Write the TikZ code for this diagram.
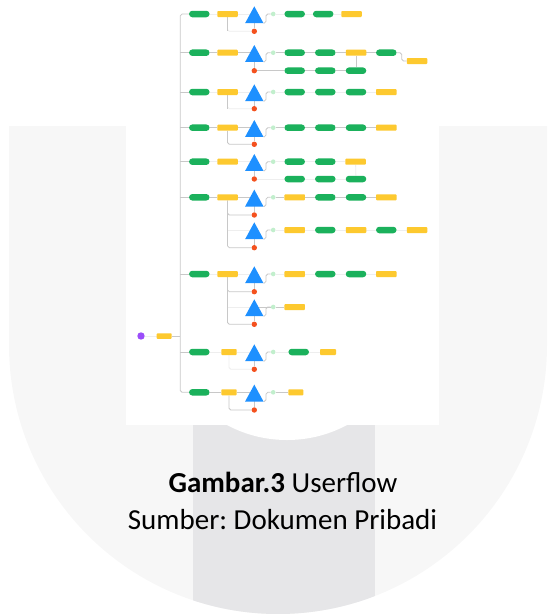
\documentclass[tikz,border=0pt]{standalone}
\usepackage{fontspec}
\setmainfont{Carlito}
\frenchspacing
\usetikzlibrary{calc}

\definecolor{wmlight}{HTML}{F7F7F7}
\definecolor{wmband}{HTML}{E6E6E8}
\definecolor{flowgreen}{HTML}{1BB15C}
\definecolor{flowyellow}{HTML}{FDC92F}
\definecolor{flowblue}{HTML}{1E90FF}
\definecolor{flowred}{HTML}{F4511E}
\definecolor{yesgreen}{HTML}{C2EFCD}
\definecolor{startpurple}{HTML}{9B4DFA}
\definecolor{linkgray}{HTML}{C8C8C8}
\definecolor{faintgray}{HTML}{EEEEEE}

\pgfdeclarelayer{wm}
\pgfdeclarelayer{links}
\pgfsetlayers{wm,links,main}

\tikzset{
  pill/.style={rectangle, rounded corners=3.2pt, fill=flowgreen, minimum width=20.5pt, minimum height=6.5pt, inner sep=0pt},
  note/.style={rectangle, rounded corners=0.8pt, fill=flowyellow, minimum width=20.5pt, minimum height=6pt, inner sep=0pt},
  decision/.style={rectangle, minimum width=18pt, minimum height=16.5pt, inner sep=0pt},
  okdot/.style={circle, fill=yesgreen, minimum size=4.6pt, inner sep=0pt},
  nodot/.style={circle, fill=flowred, minimum size=5.4pt, inner sep=0pt},
  startdot/.style={circle, fill=startpurple, minimum size=7.4pt, inner sep=0pt},
  link/.style={draw=linkgray, line width=0.8pt, rounded corners=1.8pt},
  faint/.style={draw=faintgray, line width=0.8pt, rounded corners=1.8pt},
  caption/.style={anchor=base, inner sep=0pt, font=\fontsize{29}{35}\selectfont},
}

% decision triangle: named box plus the filled triangle inside it
\newcommand{\decisionnode}[3]{%
  \node[decision] (#1) at (#2,#3) {};
  \fill[flowblue] (#1.south west) -- (#1.south east) -- (#1.north) -- cycle;}

\begin{document}
\begin{tikzpicture}[x=1pt,y=-1pt]
\useasboundingbox (0,0) rectangle (547,614);

% ---------- background emblem ----------
\begin{pgfonlayer}{wm}
  \fill[wmlight] (9,126) -- (547,126) -- (547,345) arc[start angle=0, end angle=180, radius=269] -- cycle;
  \begin{scope}
    \clip (9,126) -- (547,126) -- (547,345) arc[start angle=0, end angle=180, radius=269] -- cycle;
    \fill[wmband] (193,300) rectangle (375,614);
  \end{scope}
  \fill[white] (287,312.5) circle[radius=127.5];
  \fill[white] (126,0) rectangle (439,425);
\end{pgfonlayer}

% ---------- start ----------
\node[startdot] (s0) at (141,336) {};
\node[note, minimum width=15pt, minimum height=5.5pt] (s1) at (164.2,336) {};
\coordinate (trk) at (180.3,0);

% ---------- row 1 ----------
\node[pill] (p1) at (199.3,14) {};
\node[note] (n1) at (227.5,14) {};
\decisionnode{d1}{254.3}{14.75}
\node[okdot] (k1) at (273.2,14) {};
\node[nodot] (x1) at (254.3,31.3) {};
\node[pill] (r1a) at (294.7,14) {};
\node[pill] (r1b) at (323.2,14) {};
\node[note] (r1c) at (351.5,14) {};

% ---------- row 2 ----------
\node[pill] (p2) at (199.3,52.7) {};
\node[note] (n2) at (227.5,52.7) {};
\decisionnode{d2}{254.3}{53.45}
\node[okdot] (k2) at (273.2,52.7) {};
\node[nodot] (x2) at (254.3,70.7) {};
\node[pill] (r2a) at (294.7,52.7) {};
\node[pill] (r2b) at (325.3,52.7) {};
\node[note] (r2c) at (356,52.7) {};
\node[pill] (r2d) at (386.3,52.7) {};
\node[note] (r2e) at (417,61) {};
\node[pill] (r2f) at (294.7,70.7) {};
\node[pill] (r2g) at (325.3,70.7) {};
\node[pill] (r2h) at (356,70.7) {};

% ---------- row 3 ----------
\node[pill] (p3) at (199.3,92) {};
\node[note] (n3) at (227.5,92) {};
\decisionnode{d3}{254.3}{92.75}
\node[okdot] (k3) at (273.2,92) {};
\node[nodot] (x3) at (254.3,108.7) {};
\node[pill] (r3a) at (294.7,92) {};
\node[pill] (r3b) at (325.3,92) {};
\node[pill] (r3c) at (356,92) {};
\node[note] (r3d) at (386.3,92) {};

% ---------- row 4 ----------
\node[pill] (p4) at (199.3,127.7) {};
\node[note] (n4) at (227.5,127.7) {};
\decisionnode{d4}{254.3}{128.45}
\node[okdot] (k4) at (273.2,127.7) {};
\node[nodot] (x4) at (254.3,144.3) {};
\node[pill] (r4a) at (294.7,127.7) {};
\node[pill] (r4b) at (325.3,127.7) {};
\node[pill] (r4c) at (356,127.7) {};
\node[note] (r4d) at (386.3,127.7) {};

% ---------- row 5 ----------
\node[pill] (p5) at (199.3,161.7) {};
\node[note] (n5) at (227.5,161.7) {};
\decisionnode{d5}{254.3}{162.45}
\node[okdot] (k5) at (273.2,161.7) {};
\node[nodot] (x5) at (254.3,179) {};
\node[pill] (r5a) at (294.7,161.7) {};
\node[pill] (r5b) at (325.3,161.7) {};
\node[note] (r5c) at (355.5,161.7) {};
\node[pill] (r5d) at (294.7,179) {};
\node[pill] (r5e) at (325.3,179) {};
\node[pill] (r5f) at (356,179) {};

% ---------- row 6 ----------
\node[pill] (p6) at (199.3,197.3) {};
\node[note] (n6) at (227.5,197.3) {};
\decisionnode{d6}{254.3}{198.05}
\node[okdot] (k6) at (273.2,197.3) {};
\node[nodot] (x6) at (254.3,215) {};
\node[note] (r6a) at (294.7,197.3) {};
\node[pill] (r6b) at (325.3,197.3) {};
\node[pill] (r6c) at (356,197.3) {};
\node[note] (r6d) at (386.3,197.3) {};
\decisionnode{d6b}{254.3}{230.75}
\node[okdot] (k6b) at (273.2,230) {};
\node[nodot] (x6b) at (254.3,247.7) {};
\node[note] (r6e) at (294.7,230) {};
\node[pill] (r6f) at (325.3,230) {};
\node[note] (r6g) at (356,230) {};
\node[pill] (r6h) at (386.3,230) {};
\node[note] (r6i) at (417,230) {};

% ---------- row 7 ----------
\node[pill] (p7) at (199.3,274) {};
\node[note] (n7) at (227.5,274) {};
\decisionnode{d7}{254.3}{274.75}
\node[okdot] (k7) at (273.2,274) {};
\node[nodot] (x7) at (254.3,291.7) {};
\node[note] (r7a) at (294.7,274) {};
\node[pill] (r7b) at (325.3,274) {};
\node[pill] (r7c) at (356,274) {};
\node[note] (r7d) at (386.3,274) {};
\decisionnode{d7b}{254.3}{307.75}
\node[okdot] (k7b) at (273.2,307) {};
\node[nodot] (x7b) at (254.3,324.3) {};
\node[note] (r7e) at (294.7,307) {};

% ---------- row 8 ----------
\node[pill] (p8) at (199.3,352) {};
\node[note, minimum width=15.4pt] (n8) at (229,352) {};
\decisionnode{d8}{254.3}{352.75}
\node[okdot] (k8) at (273.2,352) {};
\node[nodot] (x8) at (254.3,369.3) {};
\node[pill] (r8a) at (298.7,352) {};
\node[note, minimum width=16pt] (r8b) at (328,352) {};

% ---------- row 9 ----------
\node[pill] (p9) at (199.3,392.3) {};
\node[note, minimum width=15.4pt] (n9) at (229,392.3) {};
\decisionnode{d9}{254.3}{393.05}
\node[okdot] (k9) at (273.2,392.3) {};
\node[nodot] (x9) at (254.3,410) {};
\node[note, minimum width=15pt] (r9a) at (295.8,392.3) {};

% ---------- connectors ----------
\begin{pgfonlayer}{links}
  % trunk from the start note to every menu
  \path[link] (p1) -- (p1 -| trk) -- (p9 -| trk) -- (p9);
  \foreach \r in {2,...,8} {\path[link] (p\r -| trk) -- (p\r);}
  \path[link] (s1) -- (s1 -| trk);
  \path[faint] (s0) -- (s1);

  % decision -> no, decision -> yes
  \foreach \d/\x/\k in {d1/x1/k1,d2/x2/k2,d3/x3/k3,d4/x4/k4,d5/x5/k5,d6/x6/k6,d6b/x6b/k6b,d7/x7/k7,d7b/x7b/k7b,d8/x8/k8,d9/x9/k9} {
    \path[link] (\d.center) -- (\x);
    \path[link] (\d.south east) -- ++(2.5,0) |- (\k);
  }

  % row 1
  \path[faint] (p1) -- (n1) -- (n1 -| d1);
  \path[faint] (k1) -- (r1a) -- (r1b) -- (r1c);
  \path[faint] (x1) -| (n1);
  \path[link] (n1) -- (n1 |- x1);

  % row 2
  \path[link] (p2) -- (n2) -- (n2 -| d2);
  \path[link] (k2) -- (r2a) -- (r2b) -- (r2c) -- (r2d);
  \path[link] (r2d.east) -- ++(5,0) |- (r2e);
  \path[link] (x2) -- (r2f) -- (r2g) -- (r2h);
  \path[link] (r2c) -- (r2h);

  % row 3
  \path[faint] (p3) -- (n3) -- (n3 -| d3);
  \path[faint] (k3) -- (r3a) -- (r3b) -- (r3c) -- (r3d);
  \path[faint] (x3) -| (n3);
  \path[link] (n3) -- (n3 |- x3);

  % row 4
  \path[link] (p4) -- (n4) -- (n4 -| d4);
  \path[link] (k4) -- (r4a) -- (r4b) -- (r4c) -- (r4d);
  \path[link] (x4) -| (n4);

  % row 5
  \path[faint] (p5) -- (n5) -- (n5 -| d5);
  \path[faint] (k5) -- (r5a) -- (r5b) -- (r5c);
  \path[faint] (x5) -- (r5d) -- (r5e) -- (r5f);
  \path[faint] (r5c) -- (r5f);

  % row 6
  \path[link] (p6) -- (n6) -- (n6 -| d6);
  \path[link] (k6) -- (r6a) -- (r6b) -- (r6c) -- (r6d);
  \path[link] (n6) |- (x6);
  \path[link] (n6) |- (x6b);
  \path[faint] (n6 |- k6b) -- (d6b.center |- k6b);
  \path[faint] (k6b) -- (r6e) -- (r6f) -- (r6g) -- (r6h) -- (r6i);

  % row 7
  \path[faint] (p7) -- (n7) -- (n7 -| d7);
  \path[faint] (k7) -- (r7a) -- (r7b) -- (r7c) -- (r7d);
  \path[link] (n7) |- (x7);
  \path[link] (n7) |- (x7b);
  \path[faint] (n7 |- k7b) -- (d7b.center |- k7b);
  \path[link] (d7b.center |- k7b) -- (k7b) -- (r7e);

  % row 8
  \path[faint] (p8) -- (n8) -- (n8 -| d8);
  \path[faint] (k8) -- (r8a) -- (r8b);
  \path[faint] (x8) -| (n8);

  % row 9
  \path[link] (p9) -- (n9) -- (n9 -| d9);
  \path[link] (k9) -- (r9a);
  \path[link] (x9) -| (n9);
\end{pgfonlayer}

% ---------- caption ----------
\node[caption] (cap1) at (283,492.5) {\textbf{Gambar.3} Userflow};
\node[caption] (cap2) at (282.5,529) {Sumber: Dokumen Pribadi};
\end{tikzpicture}
\end{document}
